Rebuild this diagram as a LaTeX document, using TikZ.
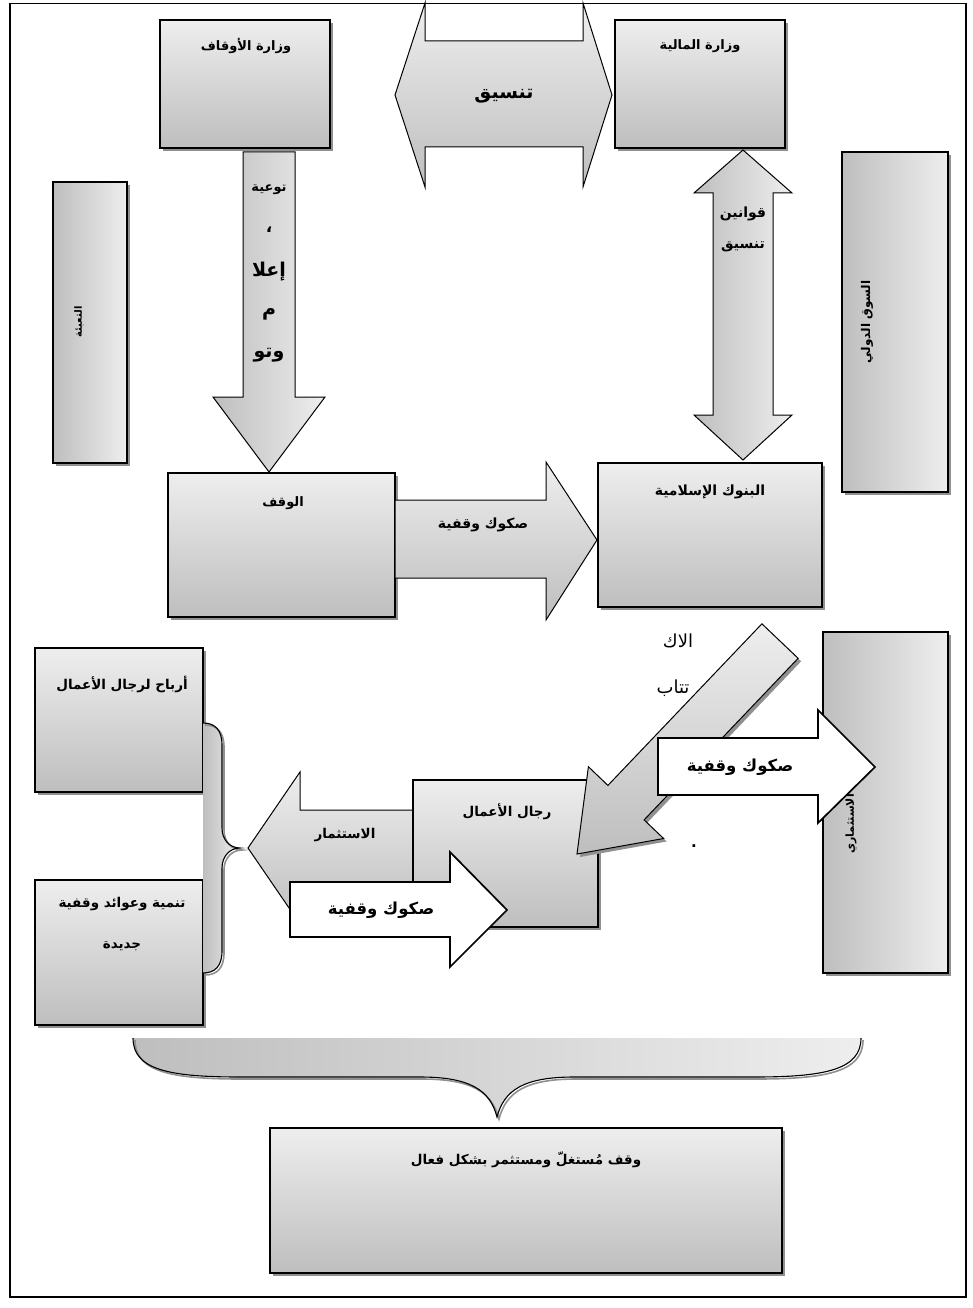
\documentclass[tikz,border=0pt]{standalone}
\usepackage{fontspec}
\newfontfamily\arabicfont[Script=Arabic]{DejaVu Sans}
\TeXXeTstate=1
\usetikzlibrary{shadows}
\newcommand{\artx}[1]{\beginR #1\endR}
\definecolor{boxhi}{HTML}{EEEEEE}
\definecolor{boxlo}{HTML}{BEBEBE}
\definecolor{shadowgray}{HTML}{909090}
\tikzset{
  boxshadow/.style={drop shadow={shadow xshift=3pt, shadow yshift=-3pt, fill=shadowgray, opacity=1}},
  panel/.style={draw=black, line width=1.1pt, top color=boxhi, bottom color=boxlo,
                boxshadow, inner sep=0pt, outer sep=0pt, anchor=north west},
  vpanel/.style={panel, left color=boxlo, right color=boxhi},
  garrow/.style={draw=black, line width=1pt, top color=boxhi, bottom color=boxlo},
  vgarrow/.style={draw=black, line width=1pt, left color=boxlo, right color=boxhi},
  warrow/.style={draw=black, line width=1.7pt, fill=white},
  txt/.style={inner sep=0pt, font=\arabicfont\fontsize{#1}{#1}\selectfont},
  btxt/.style={inner sep=0pt, font=\arabicfont\bfseries\fontsize{#1}{#1}\selectfont},
  bracefill/.style={left color=boxlo, right color=boxhi},
  braceline/.style={draw=black, line width=1.1pt},
  braceshade/.style={draw=shadowgray, line width=1.6pt},
}
\begin{document}
\begin{tikzpicture}[x=1pt,y=-1pt]
\useasboundingbox (0,0) rectangle (972,1308);

% ---- ministries and coordination ----
\node[panel, minimum width=170pt, minimum height=128pt] (awqaf) at (160,20) {};
\node[btxt=13] (awqaf-l) at (246,46) {\artx{وزارة الأوقاف}};
\node[panel, minimum width=170pt, minimum height=128pt] (maliya) at (615,20) {};
\node[btxt=13] (maliya-l) at (700,46) {\artx{وزارة المالية}};

\path[garrow] (395,95) -- (425,3) -- (425,41) -- (583,41) -- (583,3) -- (612,95)
  -- (583,187) -- (583,147) -- (425,147) -- (425,187) -- cycle;
\node[btxt=19] (tansiq) at (504,96) {\artx{تنسيق}};

% awareness arrow down to the waqf
\path[vgarrow] (243,152) -- (295,152) -- (295,397) -- (325,397) -- (269,472)
  -- (213,397) -- (243,397) -- cycle;
\node[btxt=13] (aw1) at (269,190) {\artx{توعية}};
\node[btxt=17] (aw2) at (269,230) {\artx{،}};
\node[btxt=19] (aw3) at (269,272) {\artx{إعلا}};
\node[btxt=19] (aw4) at (269,314) {\artx{م}};
\node[btxt=19] (aw5) at (269,355) {\artx{وتو}};

% laws and coordination, vertical double arrow
\path[vgarrow] (743,150) -- (792,193) -- (773,193) -- (773,415) -- (792,415) -- (743,460)
  -- (694,415) -- (713,415) -- (713,193) -- (694,193) -- cycle;
\node[btxt=14] (law1) at (743,214) {\artx{قوانين}};
\node[btxt=14] (law2) at (743,247) {\artx{تنسيق}};

% side columns
\node[vpanel, minimum width=74pt, minimum height=281pt] (tabia) at (53,182) {};
\node[btxt=10, rotate=90] (tabia-l) at (79,322) {\artx{التعبئة}};
\node[vpanel, minimum width=106pt, minimum height=340pt] (souq) at (842,152) {};
\node[btxt=12, rotate=90] (souq-l) at (867,322) {\artx{السوق الدولي}};

% ---- waqf and Islamic banks ----
\node[panel, minimum width=227pt, minimum height=144pt] (waqf) at (168,473) {};
\node[btxt=13] (waqf-l) at (283,503) {\artx{الوقف}};
\path[garrow] (395,500) -- (546,500) -- (546,462) -- (597,540) -- (546,620)
  -- (546,578) -- (395,578) -- cycle;
\node[btxt=14] (sukuk1) at (483,525) {\artx{صكوك وقفية}};
\node[panel, minimum width=224pt, minimum height=144pt] (banks) at (598,463) {};
\node[btxt=14] (banks-l) at (710,492) {\artx{البنوك الإسلامية}};

% ---- outcomes on the left ----
\node[panel, minimum width=168pt, minimum height=144pt] (arbah) at (35,648) {};
\node[btxt=13.5] (arbah-l) at (122,684) {\artx{أرباح لرجال الأعمال}};
\node[panel, minimum width=168pt, minimum height=145pt] (tanmiya) at (35,880) {};
\node[btxt=13.5] (tanmiya-l1) at (122,904) {\artx{تنمية وعوائد وقفية}};
\node[btxt=13.5] (tanmiya-l2) at (122,946) {\artx{جديدة}};

% brace gathering the two outcomes
\fill[bracefill] (203,723) .. controls (215,723) and (222,730) .. (222,745) -- (222,828)
  .. controls (222,840) and (230,848) .. (240,848) .. controls (230,848) and (222,856) .. (222,868)
  -- (222,951) .. controls (222,966) and (215,973) .. (203,973) -- cycle;
\draw[braceshade, shift={(2,2)}] (203,723) .. controls (215,723) and (222,730) .. (222,745) -- (222,828)
  .. controls (222,840) and (230,848) .. (240,848) .. controls (230,848) and (222,856) .. (222,868)
  -- (222,951) .. controls (222,966) and (215,973) .. (203,973);
\draw[braceline] (203,723) .. controls (215,723) and (222,730) .. (222,745) -- (222,828)
  .. controls (222,840) and (230,848) .. (240,848) .. controls (230,848) and (222,856) .. (222,868)
  -- (222,951) .. controls (222,966) and (215,973) .. (203,973);

% investment arrow, passing behind the business box
\path[garrow] (248,848) -- (300,772) -- (300,810) -- (413,810) -- (413,886) -- (300,886)
  -- (300,924) -- cycle;
\node[btxt=13.5] (istithmar) at (345,835) {\artx{الاستثمار}};

% ---- business people, subscription, investors ----
\node[panel, minimum width=185pt, minimum height=147pt] (rijal) at (413,780) {};
\node[btxt=13.5] (rijal-l) at (507,812) {\artx{رجال الأعمال}};

\node[vpanel, minimum width=125pt, minimum height=341pt] (mustathmir) at (823,632) {};
\node[btxt=11, rotate=90] (mustathmir-l) at (851,824) {\artx{الاستثماري}};

% subscription arrow from the banks to the business people
\path[garrow, boxshadow] (761.9,623.8) -- (798.1,658.3) -- (644.1,819.9) -- (663.6,838.5)
  -- (577,854) -- (588.4,766.7) -- (607.9,785.4) -- cycle;
\node[txt=18] (iktitab1) at (678,641) {\artx{الاك}};
\node[txt=18] (iktitab2) at (673,688) {\artx{تتاب}};

% white sukuk arrows
\path[warrow] (658,738) -- (818,738) -- (818,710) -- (875,767) -- (818,823) -- (818,795)
  -- (658,795) -- cycle;
\node[btxt=16.5] (sukuk2) at (740,767) {\artx{صكوك وقفية}};
\path[warrow] (290,882) -- (450,882) -- (450,852) -- (507,910) -- (450,967) -- (450,937)
  -- (290,937) -- cycle;
\node[btxt=16.5] (sukuk3) at (381,910) {\artx{صكوك وقفية}};
\node[btxt=15] (dot) at (694,846) {.};

% ---- final result ----
\fill[bracefill] (133,1038) .. controls (133,1070) and (170,1077) .. (240,1077) -- (420,1077)
  .. controls (470,1077) and (490,1090) .. (497,1117) .. controls (504,1090) and (524,1077) .. (574,1077)
  -- (754,1077) .. controls (824,1077) and (861,1070) .. (861,1038) -- cycle;
\draw[braceshade, shift={(2,2)}] (133,1038) .. controls (133,1070) and (170,1077) .. (240,1077) -- (420,1077)
  .. controls (470,1077) and (490,1090) .. (497,1117) .. controls (504,1090) and (524,1077) .. (574,1077)
  -- (754,1077) .. controls (824,1077) and (861,1070) .. (861,1038);
\draw[braceline] (133,1038) .. controls (133,1070) and (170,1077) .. (240,1077) -- (420,1077)
  .. controls (470,1077) and (490,1090) .. (497,1117) .. controls (504,1090) and (524,1077) .. (574,1077)
  -- (754,1077) .. controls (824,1077) and (861,1070) .. (861,1038);

\node[panel, minimum width=512pt, minimum height=145pt] (result) at (270,1128) {};
\node[btxt=13.5] (result-l) at (526,1160) {\artx{وقف مُستغلّ ومستثمر بشكل فعال}};

% page frame
\draw[line width=1.6pt] (10,3.5) rectangle (966,1297);
\end{tikzpicture}
\end{document}
